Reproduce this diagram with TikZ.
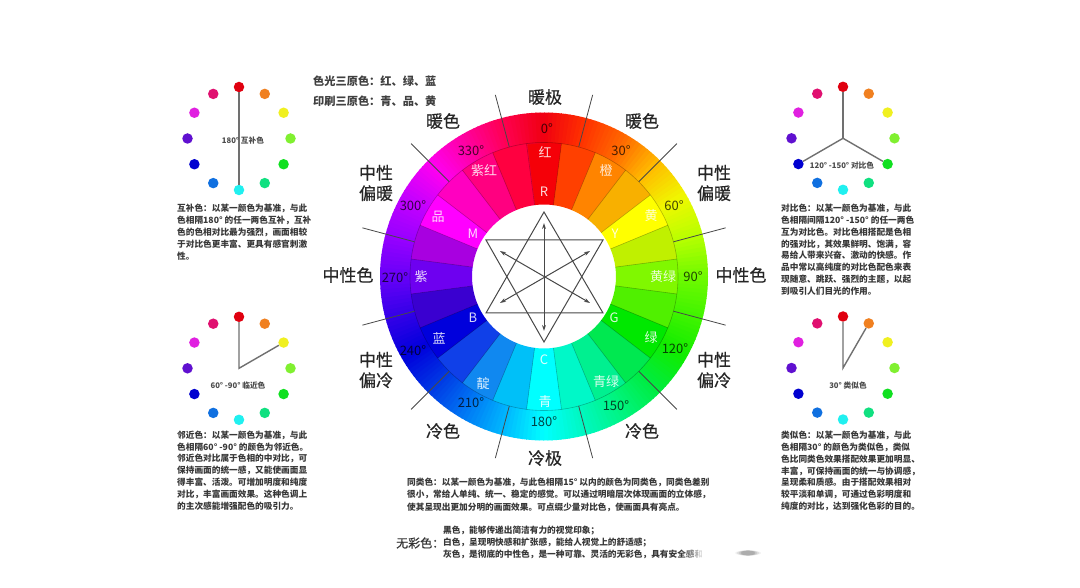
\documentclass[tikz,border=0pt]{standalone}
\usepackage{fontspec}
\setmainfont{Noto Sans CJK SC}
\newfontfamily\heavycjk[FakeBold=0.5]{Noto Sans CJK SC}
\usetikzlibrary{arrows.meta}
\definecolor{i0}{HTML}{F50008}\definecolor{i15}{HTML}{FF4000}\definecolor{i30}{HTML}{FF8400}\definecolor{i45}{HTML}{F8B000}
\definecolor{i60}{HTML}{FFFF00}\definecolor{i75}{HTML}{C0F000}\definecolor{i90}{HTML}{80F800}\definecolor{i105}{HTML}{50F000}
\definecolor{i120}{HTML}{00E800}\definecolor{i135}{HTML}{00E850}\definecolor{i150}{HTML}{00F090}\definecolor{i165}{HTML}{00F8C8}
\definecolor{i180}{HTML}{00FFFF}\definecolor{i195}{HTML}{00C0F8}\definecolor{i210}{HTML}{1088F0}\definecolor{i225}{HTML}{1040E8}
\definecolor{i240}{HTML}{0000DC}\definecolor{i255}{HTML}{3A00D0}\definecolor{i270}{HTML}{6E00F0}\definecolor{i285}{HTML}{A800E0}
\definecolor{i300}{HTML}{FF00FF}\definecolor{i315}{HTML}{FF00C0}\definecolor{i330}{HTML}{FF0080}\definecolor{i345}{HTML}{FF0040}
\definecolor{o0}{HTML}{F00010}\definecolor{o15}{HTML}{FF3000}\definecolor{o30}{HTML}{FF6800}\definecolor{o45}{HTML}{FFBC00}
\definecolor{o60}{HTML}{F0F800}\definecolor{o75}{HTML}{B8FF00}\definecolor{o90}{HTML}{70FA00}\definecolor{o105}{HTML}{40F400}
\definecolor{o120}{HTML}{10EC00}\definecolor{o135}{HTML}{00EC40}\definecolor{o150}{HTML}{00F480}\definecolor{o165}{HTML}{00F8C0}
\definecolor{o180}{HTML}{00FFFF}\definecolor{o195}{HTML}{00B8FF}\definecolor{o210}{HTML}{0078F4}\definecolor{o225}{HTML}{0038E4}
\definecolor{o240}{HTML}{0000DC}\definecolor{o255}{HTML}{3400E8}\definecolor{o270}{HTML}{6800F8}\definecolor{o285}{HTML}{9800FF}
\definecolor{o300}{HTML}{C400FF}\definecolor{o315}{HTML}{FF00F0}\definecolor{o330}{HTML}{FF00A0}\definecolor{o345}{HTML}{FF0050}
\definecolor{inkgray}{HTML}{484848}
\definecolor{wgray}{HTML}{707070}
\tikzset{
 txtline/.style={anchor=base west,inner sep=0pt,font=\fontsize{8.67}{10}\selectfont\bfseries,text=black!78},
 bigword/.style={inner sep=0pt,align=center,font=\heavycjk\fontsize{17}{20.5}\selectfont,text=black!85},
 deglabel/.style={inner sep=0pt,font=\fontsize{13}{15}\selectfont,text=black,opacity=.72},
 ringlabel/.style={inner sep=0pt,font=\fontsize{13}{15}\selectfont,text=white,opacity=.85},
 wheelcap/.style={inner sep=0pt,font=\fontsize{7.7}{9}\selectfont\bfseries,text=black!70},
 wdot/.style={circle,minimum size=10.5pt,inner sep=0pt},
 wline/.style={draw=wgray,line width=1.4pt},
 starline/.style={draw=inkgray,line width=1pt},
 stararrow/.style={draw=inkgray,line width=1pt,{Stealth[length=6pt,width=3.8pt]}-{Stealth[length=6pt,width=3.8pt]}},
 tick/.style={draw=inkgray,line width=.8pt},
 sectoredge/.style={draw=black,opacity=.26,line width=.6pt},
}
\newcommand{\wedgepath}[4]{({90-(#1)}:#3) arc[start angle={90-(#1)},end angle={90-(#2)},radius=#3] -- ({90-(#2)}:#4) arc[start angle={90-(#2)},end angle={90-(#1)},radius=#4] -- cycle}
\newcommand{\wheelat}[3]{%
 \coordinate (#1c) at (#2,#3);
 \foreach \t/\c in {0/E00010,30/F08020,60/F0F020,90/80F030,120/10E020,150/10E080,180/20F0F0,210/1070E0,240/0000D0,270/6010D0,300/E020E0,330/E01070}{
  \definecolor{dotc}{HTML}{\c}
  \node[wdot,fill=dotc] (#1d\t) at ([shift={({\t-90}:51.5)}]#2,#3) {};
 }}
\begin{document}
\begin{tikzpicture}[x=1pt,y=-1pt]
\fill[white] (0,0) rectangle (1080,588);
\useasboundingbox (0,0) rectangle (1080,588);
% colour wheel
\begin{scope}[x=1pt,y=1pt,shift={(544pt,-276.5pt)}]
 \foreach \t in {0,15,...,345}{
  \pgfmathtruncatemacro\n{mod(\t+15,360)}
  \foreach \i in {0,...,9}{
   \pgfmathsetmacro\a{\t+1.5*\i}
   \pgfmathsetmacro\b{\a+1.8}
   \pgfmathtruncatemacro\p{\i*10+5}
   \fill[color=o\n!\p!o\t] \wedgepath{\a}{\b}{133}{164};
  }
  \fill[color=i\t] \wedgepath{\t-7.5}{\t+7.8}{72}{134};
 }
 \foreach \t in {0,15,...,345}{
  \draw[sectoredge] ({90-(\t+7.5)}:72) -- ({90-(\t+7.5)}:134);
 }
 \draw[sectoredge] (0,0) circle[radius=134];
 \foreach \t in {15,45,...,345}{
  \draw[tick] ({90-\t}:134) -- ({90-\t}:188);
 }
\end{scope}
% star
\coordinate (sa) at (544,212);\coordinate (sb) at (603,313);\coordinate (sc) at (486,313);
\coordinate (sd) at (544,342);\coordinate (se) at (486,240);\coordinate (sf) at (603,240);
\draw[starline] (sa) -- (sb) -- (sc) -- cycle;
\draw[starline] (sd) -- (se) -- (sf) -- cycle;
\coordinate (aa) at (544,223);\coordinate (ab) at (544,331);
\coordinate (ac) at (500,251);\coordinate (ad) at (590,303);
\coordinate (ae) at (590,251);\coordinate (af) at (500,303);
\draw[stararrow] (aa) -- (ab);
\draw[stararrow] (ac) -- (ad);
\draw[stararrow] (ae) -- (af);
% ring labels
\node[ringlabel] (l1) at (545,152) {红};
\node[ringlabel] (l2) at (544,192) {R};
\node[ringlabel] (l3) at (484,171) {紫红};
\node[ringlabel] (l4) at (606,171) {橙};
\node[ringlabel] (l5) at (651,216) {黄};
\node[ringlabel] (l6) at (615,234) {Y};
\node[ringlabel] (l7) at (473,234) {M};
\node[ringlabel] (l8) at (438,217) {品};
\node[ringlabel] (l9) at (421,277) {紫};
\node[ringlabel] (l10) at (663,277) {黄绿};
\node[ringlabel] (l11) at (439,338) {蓝};
\node[ringlabel] (l12) at (473,318) {B};
\node[ringlabel] (l13) at (614,318) {G};
\node[ringlabel] (l14) at (651,338) {绿};
\node[ringlabel] (l15) at (483,384) {靛};
\node[ringlabel] (l16) at (606,382) {青绿};
\node[ringlabel] (l17) at (544,360) {C};
\node[ringlabel] (l18) at (545,402) {青};
% degree labels
\node[deglabel] (d0) at (547,129) {0°};
\node[deglabel] (d30) at (621,151) {30°};
\node[deglabel] (d60) at (674,206) {60°};
\node[deglabel] (d90) at (693,277) {90°};
\node[deglabel] (d120) at (675,349) {120°};
\node[deglabel] (d150) at (616,406) {150°};
\node[deglabel] (d180) at (544,422) {180°};
\node[deglabel] (d210) at (471,403) {210°};
\node[deglabel] (d240) at (413,351) {240°};
\node[deglabel] (d270) at (395,278) {270°};
\node[deglabel] (d300) at (413,206) {300°};
\node[deglabel] (d330) at (471,151) {330°};
% outer words
\node[bigword] (w1) at (545,97) {暖极};
\node[bigword] (w2) at (443,121) {暖色};
\node[bigword] (w3) at (642,121) {暖色};
\node[bigword] (w4) at (376,183) {中性\\偏暖};
\node[bigword] (w5) at (714,183) {中性\\偏暖};
\node[bigword] (w6) at (348,275) {中性色};
\node[bigword] (w7) at (741,275) {中性色};
\node[bigword] (w8) at (376,370) {中性\\偏冷};
\node[bigword] (w9) at (714,370) {中性\\偏冷};
\node[bigword] (w10) at (443,431) {冷色};
\node[bigword] (w11) at (642,431) {冷色};
\node[bigword] (w12) at (545,458) {冷极};
% primaries
\node[anchor=base west,inner sep=0pt,font=\fontsize{11.2}{13}\selectfont\bfseries,text=black!75] (p1) at (313,86) {色光三原色：红、绿、蓝};
\node[anchor=base west,inner sep=0pt,font=\fontsize{11.2}{13}\selectfont\bfseries,text=black!75] (p2) at (313,106) {印刷三原色：青、品、黄};
% wheels
\wheelat{a}{239}{138.5}
\draw[wline] (ad0) -- (ad180);
\node[wheelcap] (ca) at (243,141) {180° 互补色};
\wheelat{b}{239}{368.3}
\draw[wline] (bd0) -- (bc) -- (bd60);
\node[wheelcap] (cb) at (238,386) {60° -90° 临近色};
\wheelat{e}{843}{138.3}
\draw[wline] (ed0) -- (ec);
\draw[wline] (ed120) -- (ec) -- (ed240);
\node[wheelcap] (ce) at (842,166) {120° -150° 对比色};
\wheelat{g}{843}{368}
\draw[wline] (gd0) -- (gc) -- (gd30);
\node[wheelcap] (cg) at (848,386) {30° 类似色};
% paragraphs
\node[txtline] (t11) at (177,212) {互补色：以某一颜色为基准，与此};
\node[txtline] (t12) at (177,224) {色相隔180° 的任一两色互补，互补};
\node[txtline] (t13) at (177,236) {色的色相对比最为强烈，画面相较};
\node[txtline] (t14) at (177,247.5) {于对比色更丰富、更具有感官刺激};
\node[txtline] (t15) at (177,259.5) {性。};
\node[txtline] (t21) at (177,438) {邻近色：以某一颜色为基准，与此};
\node[txtline] (t22) at (177,450) {色相隔60° -90° 的颜色为邻近色。};
\node[txtline] (t23) at (177,461.5) {邻近色对比属于色相的中对比，可};
\node[txtline] (t24) at (177,473.5) {保持画面的统一感，又能使画面显};
\node[txtline] (t25) at (177,485.5) {得丰富、活泼。可增加明度和纯度};
\node[txtline] (t26) at (177,497.5) {对比，丰富画面效果。这种色调上};
\node[txtline] (t27) at (177,509) {的主次感能增强配色的吸引力。};
\node[txtline] (t31) at (781,212) {对比色：以某一颜色为基准，与此};
\node[txtline] (t32) at (781,223.5) {色相隔间隔120° -150° 的任一两色};
\node[txtline] (t33) at (781,235.5) {互为对比色。对比色相搭配是色相};
\node[txtline] (t34) at (781,247.5) {的强对比，其效果鲜明、饱满，容};
\node[txtline] (t35) at (781,258.5) {易给人带来兴奋、激动的快感。作};
\node[txtline] (t36) at (781,270.5) {品中常以高纯度的对比色配色来表};
\node[txtline] (t37) at (781,282.5) {现随意、跳跃、强烈的主题，以起};
\node[txtline] (t38) at (781,294.5) {到吸引人们目光的作用。};
\node[txtline] (t41) at (781,438) {类似色：以某一颜色为基准，与此};
\node[txtline] (t42) at (781,450) {色相隔30° 的颜色为类似色，类似};
\node[txtline] (t43) at (781,462) {色比同类色效果搭配效果更加明显、};
\node[txtline] (t44) at (781,474) {丰富，可保持画面的统一与协调感，};
\node[txtline] (t45) at (781,485.5) {呈现柔和质感。由于搭配效果相对};
\node[txtline] (t46) at (781,497.5) {较平淡和单调，可通过色彩明度和};
\node[txtline] (t47) at (781,509) {纯度的对比，达到强化色彩的目的。};
\node[txtline] (t51) at (407,485) {同类色：以某一颜色为基准，与此色相隔15° 以内的颜色为同类色，同类色差别};
\node[txtline] (t52) at (407,497) {很小，常给人单纯、统一、稳定的感觉。可以通过明暗层次体现画面的立体感，};
\node[txtline] (t53) at (407,510) {使其呈现出更加分明的画面效果。可点缀少量对比色，使画面具有亮点。};
\node[txtline] (t61) at (443,533) {黑色，能够传递出简洁有力的视觉印象；};
\node[txtline] (t62) at (443,545) {白色，呈现明快感和扩张感，能给人视觉上的舒适感；};
\node[txtline] (t63) at (443,557) {灰色，是彻底的中性色，是一种可靠、灵活的无彩色，具有安全感和};
\node[anchor=west,inner sep=0pt,font=\heavycjk\fontsize{12}{14}\selectfont,text=black!80] (t60) at (396,543) {无彩色：};
% fade of the last line and the smudge beside it
\foreach \x/\o in {682/.12,686/.25,690/.4,694/.6,698/.8,702/1}{
 \fill[white,opacity=\o] (\x,547) rectangle (\x+4,562);
}
\foreach \r/\o in {13/.06,11/.08,9/.1,7/.12}{
 \fill[black,opacity=\o] (748,553) ellipse[x radius=\r,y radius=2.6];
}
\end{tikzpicture}
\end{document}
